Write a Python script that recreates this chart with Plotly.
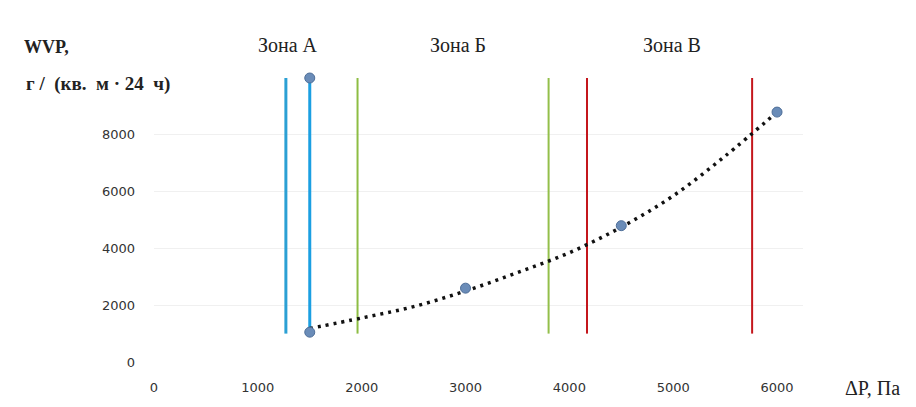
import plotly.graph_objects as go

# Measured points
point_x = [1500, 1500, 3000, 4500, 6000]
point_y = [10000, 1050, 2600, 4800, 8800]

# Dotted trend line
trend_x = [1500, 2000, 2500, 3000, 3500, 4000, 4500, 5000, 5500, 6000]
trend_y = [1180, 1550, 1950, 2500, 3150, 3850, 4750, 5850, 7250, 8800]

# Zone boundary lines
zone_x = [1270, 1500, 1960, 3800, 4170, 5760]
zone_colors = ["#2ba0d4", "#1b9fe2", "#8dbd43", "#93bf4a", "#c4161c", "#c4161c"]
zone_widths = [3, 3, 2, 2, 2, 2]
zone_y0 = 1000
zone_y1 = 10000

zone_labels = ["Зона А", "Зона Б", "Зона В"]
zone_label_x = [1290, 2930, 4990]

y_ticks = [0, 2000, 4000, 6000, 8000]
x_ticks = [0, 1000, 2000, 3000, 4000, 5000, 6000]

fig = go.Figure()

for zx, zc, zw in zip(zone_x, zone_colors, zone_widths):
    fig.add_trace(go.Scatter(x=[zx, zx], y=[zone_y0, zone_y1], mode="lines",
                             line=dict(color=zc, width=zw), showlegend=False,
                             hoverinfo="skip"))

fig.add_trace(go.Scatter(x=trend_x, y=trend_y, mode="lines",
                         line=dict(color="#111111", width=3.5, dash="3px,5px", shape="spline"),
                         showlegend=False))

fig.add_trace(go.Scatter(x=point_x, y=point_y, mode="markers",
                         marker=dict(color="#6a8cb8", size=10,
                                     line=dict(color="#4f6f99", width=1)),
                         cliponaxis=False, showlegend=False))

serif = "Liberation Serif"
for lbl, lx in zip(zone_labels, zone_label_x):
    fig.add_annotation(x=lx, y=1.115, xref="x", yref="paper", text=lbl,
                       xanchor="center", yanchor="middle",
                       showarrow=False, font=dict(family=serif, size=20, color="#222222"))

fig.add_annotation(xref="paper", yref="paper", x=-0.203, y=1.108, text="<b>WVP,</b>",
                   showarrow=False, xanchor="left", yanchor="middle",
                   font=dict(family=serif, size=18, color="#222222"))
fig.add_annotation(xref="paper", yref="paper", x=-0.2, y=0.979,
                   text="<b>г&nbsp;/&nbsp;&nbsp;(кв.&nbsp;&nbsp;м&nbsp;·&nbsp;24&nbsp;&nbsp;ч)</b>",
                   showarrow=False, xanchor="left", yanchor="middle",
                   font=dict(family=serif, size=19, color="#222222"))
fig.add_annotation(xref="paper", yref="paper", x=1.0616, y=-0.09,
                   text="ΔP, Па", showarrow=False, xanchor="left", yanchor="middle",
                   font=dict(family=serif, size=20, color="#222222"))

# page body has an 8px margin, so the figure is 8px smaller and shifted
fig.update_layout(
    width=908, height=399,
    margin=dict(l=146, r=113, t=70, b=41),
    paper_bgcolor="white", plot_bgcolor="white",
    xaxis=dict(range=[0, 6250], tickvals=x_ticks, showgrid=False, zeroline=False,
               showline=False, ticks="", ticklabelstandoff=16,
               tickfont=dict(family="DejaVu Sans", size=13, color="#333333")),
    yaxis=dict(range=[0, 10000], tickvals=y_ticks, showgrid=True, gridcolor="#f0f0f0",
               zeroline=False, showline=False, ticks="", ticklabelstandoff=18,
               tickfont=dict(family="DejaVu Sans", size=13, color="#333333")),
)

fig.write_html("out.html")
